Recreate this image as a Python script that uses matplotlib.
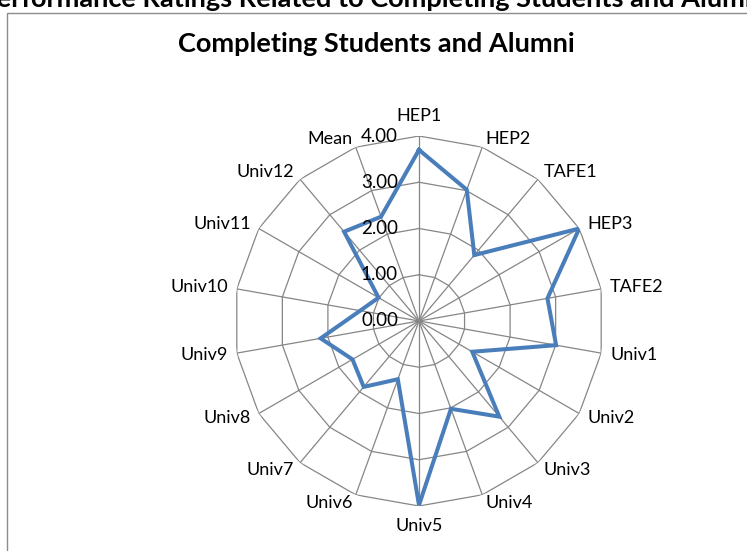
import numpy as np
import matplotlib
matplotlib.use("Agg")
import matplotlib.pyplot as plt
from matplotlib.patches import Rectangle

categories = ["HEP1", "HEP2", "TAFE1", "HEP3", "TAFE2", "Univ1", "Univ2", "Univ3",
              "Univ4", "Univ5", "Univ6", "Univ7", "Univ8", "Univ9", "Univ10",
              "Univ11", "Univ12", "Mean"]
values = [3.70, 3.02, 1.86, 4.00, 2.82, 3.01, 1.33, 2.70,
          2.02, 3.98, 1.34, 1.86, 1.66, 2.16, 1.29,
          1.01, 2.52, 2.40]
levels = [0, 1, 2, 3, 4]
level_labels = ["0.00", "1.00", "2.00", "3.00", "4.00"]

FONT = "Lato"
W, H, DPI = 747, 551, 100
fig = plt.figure(figsize=(W / DPI, H / DPI), dpi=DPI)

# outer chart border (extends beyond the right/bottom edges)
fig.patches.append(Rectangle((7 / W, -0.1), 1.2, 1.1 - 13 / H, transform=fig.transFigure,
                             fill=False, edgecolor="#8c8c8c", linewidth=1.0))

# cut-off outer title
fig.text(373 / W, 1 - 7 / H, "Performance Ratings Related to Completing Students and Alumni",
         ha="center", va="baseline", fontsize=19.5, fontweight="bold", family=FONT)
# chart title
fig.text(376 / W, 1 - 52 / H, "Completing Students and Alumni",
         ha="center", va="baseline", fontsize=19.5, fontweight="bold", family=FONT)

cx, cy, R = 419 / W, 1 - 321 / H, 185
ax = fig.add_axes([cx - R / W, cy - R / H, 2 * R / W, 2 * R / H], projection="polar")
ax.set_theta_zero_location("N")
ax.set_theta_direction(-1)
ax.set_ylim(0, 4)
ax.grid(False)
ax.spines["polar"].set_visible(False)
ax.set_xticks([])
ax.set_yticks([])
ax.patch.set_visible(False)

n = len(categories)
angles = np.arange(n) * 2 * np.pi / n
closed = np.append(angles, angles[0])

gcol = "#868686"
for lv in levels[1:]:
    ax.plot(closed, [lv] * (n + 1), color=gcol, lw=0.9, zorder=1)
for a in angles:
    ax.plot([a, a], [0, 4], color=gcol, lw=0.9, zorder=1)

ax.plot(closed, np.append(values, values[0]), color="#4a7ebb", lw=2.9,
        solid_joinstyle="miter", zorder=3)

# level labels
for lv, lab in zip(levels, level_labels):
    ax.annotate(lab, xy=(0, lv), xytext=(-21, 0), textcoords="offset pixels",
                ha="right", va="center", fontsize=13.5, family=FONT, color="black",
                zorder=4)

# category labels
for a, lab in zip(angles, categories):
    s, c = np.sin(a), np.cos(a)
    if abs(s) < 0.05:
        ha = "center"
        va = "bottom" if c > 0 else "top"
        off = (0, 12 if c > 0 else -12)
    else:
        ha = "left" if s > 0 else "right"
        va = "center"
        off = (9 * s, 9 * c)
    ax.annotate(lab, xy=(a, 4), xytext=off, textcoords="offset pixels",
                ha=ha, va=va, fontsize=13, family=FONT, color="black",
                annotation_clip=False)

fig.savefig("out.png", dpi=DPI)
